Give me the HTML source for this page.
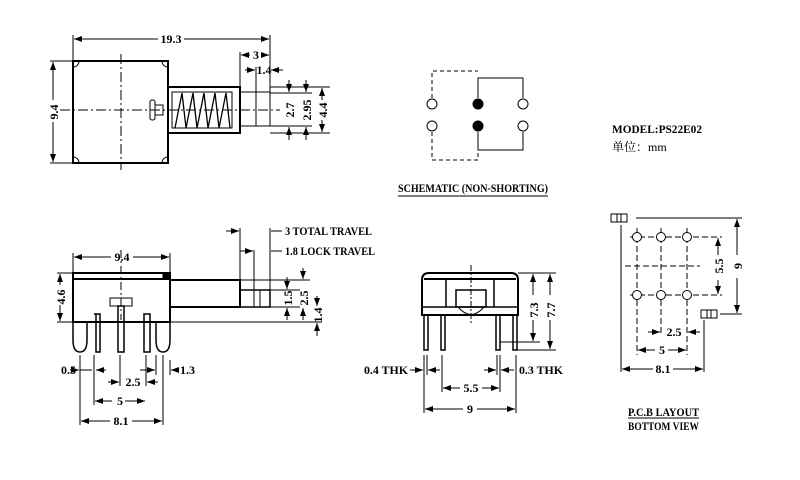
<!DOCTYPE html>
<html><head><meta charset="utf-8"><style>
html,body{margin:0;padding:0;background:#fff;}
svg{display:block;}
text{font-family:"Liberation Serif","Noto Serif CJK SC",serif;font-weight:bold;font-size:12px;fill:#000;}
</style></head><body>
<svg width="800" height="480" viewBox="0 0 800 480" xmlns="http://www.w3.org/2000/svg">
<defs>
<marker id="a" markerWidth="8" markerHeight="6" refX="8" refY="3" orient="auto-start-reverse" markerUnits="userSpaceOnUse"><path d="M0,0 L8,3 L0,6 z" fill="#000"/></marker>
</defs>
<g stroke="#000" fill="none" stroke-width="1">
<rect x="73" y="61" width="95" height="102" stroke-width="2"/>
<path d="M73,67 a6,6 0 0 0 6,-6 M162,61 a6,6 0 0 0 6,6 M73,157 a6,6 0 0 1 6,6 M168,157 a6,6 0 0 0 -6,6"/>
<line x1="121" y1="54" x2="121" y2="170" stroke-dasharray="10,3,2,3"/>
<line x1="60" y1="110" x2="280" y2="110" stroke-dasharray="10,3,2,3"/>
<rect x="168" y="87" width="72" height="46" stroke-width="2"/>
<rect x="172" y="92" width="60" height="36"/>
<path d="M175,128 L182,93 L186,128 L193,93 L197,128 L204,93 L208,128 L215,93 L219,128 L226,93 L230,128" stroke-width="1.3"/>
<rect x="150" y="100" width="5" height="20" rx="2"/>
<path d="M155,105 h8 v10 h-8"/>
<path d="M240,92 h30 M240,126 h30 M270,92 v34 M256,92 v34" />
<line x1="73" y1="35" x2="73" y2="61"/><line x1="270" y1="35" x2="270" y2="92"/>
<line x1="74" y1="39" x2="158" y2="39" marker-start="url(#a)"/><line x1="184" y1="39" x2="269" y2="39" marker-end="url(#a)"/>
<line x1="240" y1="52" x2="240" y2="87"/>
<line x1="241" y1="55" x2="250" y2="55" marker-start="url(#a)"/><line x1="262" y1="55" x2="269" y2="55" marker-end="url(#a)"/>
<line x1="256" y1="67" x2="256" y2="92"/>
<line x1="245" y1="70" x2="255" y2="70" marker-end="url(#a)"/><line x1="283" y1="70" x2="271" y2="70" marker-end="url(#a)"/>
<line x1="50" y1="61" x2="73" y2="61"/><line x1="50" y1="163" x2="73" y2="163"/>
<line x1="53" y1="62" x2="53" y2="100" marker-start="url(#a)"/><line x1="53" y1="122" x2="53" y2="162" marker-end="url(#a)"/>
<path d="M270,87 H330 M270,133 H330 M270,93 H312 M270,126 H312"/>
<line x1="289" y1="80" x2="289" y2="92" marker-end="url(#a)"/><line x1="289" y1="140" x2="289" y2="127" marker-end="url(#a)"/>
<line x1="306" y1="80" x2="306" y2="92" marker-end="url(#a)"/><line x1="306" y1="140" x2="306" y2="127" marker-end="url(#a)"/>
<line x1="322" y1="88" x2="322" y2="100" marker-start="url(#a)"/><line x1="322" y1="120" x2="322" y2="132" marker-end="url(#a)"/>

<path d="M432,98 V71 H478 M432,132 V160 H478 V150" stroke-dasharray="4,3"/>
<path d="M478,98 V78 H523 V98 M478,132 V150 H523 V132"/>
<circle cx="432" cy="104" r="5" fill="#fff"/><circle cx="523" cy="104" r="5" fill="#fff"/>
<circle cx="432" cy="126" r="5" fill="#fff"/><circle cx="523" cy="126" r="5" fill="#fff"/>
<circle cx="478" cy="104" r="5" fill="#000"/><circle cx="478" cy="126" r="5" fill="#000"/>
<line x1="398" y1="196" x2="548" y2="196"/>

<path d="M73,273 H170 V322 H73 Z" stroke-width="2"/>
<line x1="73" y1="279" x2="170" y2="279" stroke-width="2"/>
<rect x="163" y="273" width="7" height="6" fill="#000"/>
<rect x="170" y="280" width="70" height="27" stroke-width="2"/>
<rect x="240" y="290" width="30" height="17" stroke-width="1.5"/>
<line x1="254" y1="290" x2="254" y2="307"/><line x1="260" y1="290" x2="260" y2="307"/>
<line x1="121" y1="250" x2="121" y2="320" stroke-dasharray="8,3,2,3"/>
<path d="M73,322 V340 Q73,352 80,352 Q87,352 87,340 V322 M156,322 V340 Q156,352 163,352 Q170,352 170,340 V322" stroke-width="1.5"/>
<path d="M94,314 h6 v38 h-4 v-38 M118,306 h6 v46 h-6 z M144,314 h6 v38 h-6 z" stroke-width="1.5"/>
<path d="M110,306 h22 v-8 h-22 z"/>
<line x1="73" y1="253" x2="73" y2="272"/><line x1="170" y1="253" x2="170" y2="272"/>
<line x1="74" y1="257" x2="111" y2="257" marker-start="url(#a)"/><line x1="133" y1="257" x2="169" y2="257" marker-end="url(#a)"/>
<line x1="57" y1="273" x2="73" y2="273"/><line x1="57" y1="322" x2="73" y2="322"/>
<line x1="60" y1="274" x2="60" y2="285" marker-start="url(#a)"/><line x1="60" y1="305" x2="60" y2="321" marker-end="url(#a)"/>
<path d="M240,228 V290 M254,250 V290 M270,228 V290"/>
<line x1="226" y1="231" x2="239" y2="231" marker-end="url(#a)"/><line x1="271" y1="231" x2="282" y2="231"/>
<line x1="240" y1="251" x2="253" y2="251" marker-end="url(#a)"/><line x1="271" y1="251" x2="282" y2="251"/>
<path d="M240,280 H310 M270,290 H300 M170,322 H322 M170,307 H300"/>
<line x1="287" y1="277" x2="287" y2="289" marker-end="url(#a)"/><line x1="287" y1="320" x2="287" y2="308" marker-end="url(#a)"/>
<line x1="303" y1="268" x2="303" y2="279" marker-end="url(#a)"/><line x1="303" y1="320" x2="303" y2="308" marker-end="url(#a)"/>
<line x1="317" y1="296" x2="317" y2="306" marker-end="url(#a)"/><line x1="317" y1="336" x2="317" y2="323" marker-end="url(#a)"/>
<path d="M80,355 V425 M94,355 V405 M120,355 V386 M146,355 V386 M163,355 V425 M156,355 V375"/>
<line x1="80" y1="370" x2="92" y2="370"/><line x1="106" y1="370" x2="96" y2="370" marker-end="url(#a)"/>
<line x1="70" y1="370" x2="79" y2="370" marker-end="url(#a)"/>
<line x1="140" y1="370" x2="155" y2="370" marker-end="url(#a)"/>
<line x1="178" y1="370" x2="171" y2="370" marker-end="url(#a)"/><line x1="170" y1="360" x2="170" y2="375"/>
<line x1="108" y1="382" x2="119" y2="382" marker-end="url(#a)"/><line x1="158" y1="382" x2="147" y2="382" marker-end="url(#a)"/>
<line x1="95" y1="401" x2="112" y2="401" marker-start="url(#a)"/><line x1="125" y1="401" x2="145" y2="401" marker-end="url(#a)"/>
<line x1="81" y1="421" x2="110" y2="421" marker-start="url(#a)"/><line x1="132" y1="421" x2="162" y2="421" marker-end="url(#a)"/>

<path d="M422,315 V280 Q422,273 429,273 H511 Q518,273 518,280 V315 Z" stroke-width="2"/>
<line x1="424" y1="279" x2="516" y2="279" stroke-width="2"/>
<path d="M446,279 V307 M494,279 V307 M422,307 H518" stroke-width="1.5"/>
<rect x="456" y="290" width="30" height="17" stroke-width="1.5"/>
<path d="M458,307 Q471,322 484,307"/>
<line x1="471" y1="265" x2="471" y2="325" stroke-dasharray="6,2,2,2"/>
<path d="M424,315 v35 h4 v-35 M441,315 v35 h4 v-35 M496,315 v35 h4 v-35 M513,315 v35 h4 v-35" stroke-width="1.5"/>
<path d="M518,273 H556 M516,350 H556 M500,342 H540"/>
<line x1="533" y1="274" x2="533" y2="295" marker-start="url(#a)"/><line x1="533" y1="320" x2="533" y2="341" marker-end="url(#a)"/>
<line x1="550" y1="274" x2="550" y2="295" marker-start="url(#a)"/><line x1="550" y1="320" x2="550" y2="349" marker-end="url(#a)"/>
<path d="M424,355 V413 M427,355 V375 M442,355 V392 M497,355 V375 M500,355 V392 M516,355 V413"/>
<line x1="410" y1="370" x2="423" y2="370" marker-end="url(#a)"/><line x1="440" y1="370" x2="428" y2="370" marker-end="url(#a)"/>
<line x1="484" y1="370" x2="496" y2="370" marker-end="url(#a)"/><line x1="514" y1="370" x2="501" y2="370" marker-end="url(#a)"/>
<line x1="443" y1="388" x2="460" y2="388" marker-start="url(#a)"/><line x1="482" y1="388" x2="499" y2="388" marker-end="url(#a)"/>
<line x1="425" y1="409" x2="463" y2="409" marker-start="url(#a)"/><line x1="477" y1="409" x2="515" y2="409" marker-end="url(#a)"/>

<rect x="611" y="214" width="16" height="8"/><line x1="617" y1="214" x2="617" y2="222"/><line x1="621" y1="214" x2="621" y2="222"/>
<rect x="701" y="310" width="16" height="8"/><line x1="707" y1="310" x2="707" y2="318"/><line x1="711" y1="310" x2="711" y2="318"/>
<path d="M630,237 H722 M630,295 H722 M625,266 H700 M637,228 V355 M661,228 V335 M687,228 V355" stroke-dasharray="6,3"/>
<circle cx="637" cy="237" r="4.5" fill="#fff"/><circle cx="661" cy="237" r="4.5" fill="#fff"/><circle cx="687" cy="237" r="4.5" fill="#fff"/>
<circle cx="637" cy="295" r="4.5" fill="#fff"/><circle cx="661" cy="295" r="4.5" fill="#fff"/><circle cx="687" cy="295" r="4.5" fill="#fff"/>
<path d="M621,225 V372 M704,320 V372 M636,218 H742 M720,314 H742"/>
<line x1="718" y1="238" x2="718" y2="255" marker-start="url(#a)"/><line x1="718" y1="280" x2="718" y2="294" marker-end="url(#a)"/>
<line x1="737" y1="219" x2="737" y2="255" marker-start="url(#a)"/><line x1="737" y1="278" x2="737" y2="313" marker-end="url(#a)"/>
<line x1="648" y1="332" x2="660" y2="332" marker-end="url(#a)"/><line x1="700" y1="332" x2="688" y2="332" marker-end="url(#a)"/>
<line x1="638" y1="350" x2="655" y2="350" marker-start="url(#a)"/><line x1="668" y1="350" x2="686" y2="350" marker-end="url(#a)"/>
<line x1="622" y1="369" x2="653" y2="369" marker-start="url(#a)"/><line x1="673" y1="369" x2="703" y2="369" marker-end="url(#a)"/>
<line x1="628" y1="418" x2="699" y2="418"/>
</g>
<g>
<text x="171" y="43" text-anchor="middle">19.3</text>
<text x="256" y="59" text-anchor="middle">3</text>
<text x="264" y="74" text-anchor="middle">1.4</text>
<text transform="translate(58,112) rotate(-90)" text-anchor="middle">9.4</text>
<text transform="translate(294,110) rotate(-90)" text-anchor="middle">2.7</text>
<text transform="translate(311,110) rotate(-90)" text-anchor="middle">2.95</text>
<text transform="translate(327,110) rotate(-90)" text-anchor="middle">4.4</text>
<text x="398" y="192" textLength="150" lengthAdjust="spacingAndGlyphs">SCHEMATIC (NON-SHORTING)</text>
<text x="612" y="133" textLength="90" lengthAdjust="spacingAndGlyphs">MODEL:PS22E02</text>
<text x="612" y="151" style="font-weight:normal">单位：mm</text>
<text x="122" y="261" text-anchor="middle">9.4</text>
<text transform="translate(65,297) rotate(-90)" text-anchor="middle">4.6</text>
<text x="285" y="235" textLength="87" lengthAdjust="spacingAndGlyphs">3 TOTAL TRAVEL</text>
<text x="285" y="255" textLength="90" lengthAdjust="spacingAndGlyphs">1.8 LOCK TRAVEL</text>
<text transform="translate(292,298) rotate(-90)" text-anchor="middle">1.5</text>
<text transform="translate(308,298) rotate(-90)" text-anchor="middle">2.5</text>
<text transform="translate(322,315) rotate(-90)" text-anchor="middle">1.4</text>
<text x="61" y="374">0.5</text>
<text x="180" y="374">1.3</text>
<text x="133" y="386" text-anchor="middle">2.5</text>
<text x="120" y="405" text-anchor="middle">5</text>
<text x="121" y="425" text-anchor="middle">8.1</text>
<text x="364" y="374" textLength="44" lengthAdjust="spacingAndGlyphs">0.4 THK</text>
<text x="519" y="374" textLength="44" lengthAdjust="spacingAndGlyphs">0.3 THK</text>
<text x="471" y="392" text-anchor="middle">5.5</text>
<text x="470" y="413" text-anchor="middle">9</text>
<text transform="translate(538,310) rotate(-90)" text-anchor="middle">7.3</text>
<text transform="translate(555,310) rotate(-90)" text-anchor="middle">7.7</text>
<text transform="translate(723,266) rotate(-90)" text-anchor="middle">5.5</text>
<text transform="translate(742,266) rotate(-90)" text-anchor="middle">9</text>
<text x="674" y="336" text-anchor="middle">2.5</text>
<text x="662" y="354" text-anchor="middle">5</text>
<text x="663" y="373" text-anchor="middle">8.1</text>
<text x="628" y="416" textLength="71" lengthAdjust="spacingAndGlyphs">P.C.B LAYOUT</text>
<text x="628" y="430" textLength="71" lengthAdjust="spacingAndGlyphs">BOTTOM VIEW</text>
</g>
</svg>
</body></html>
